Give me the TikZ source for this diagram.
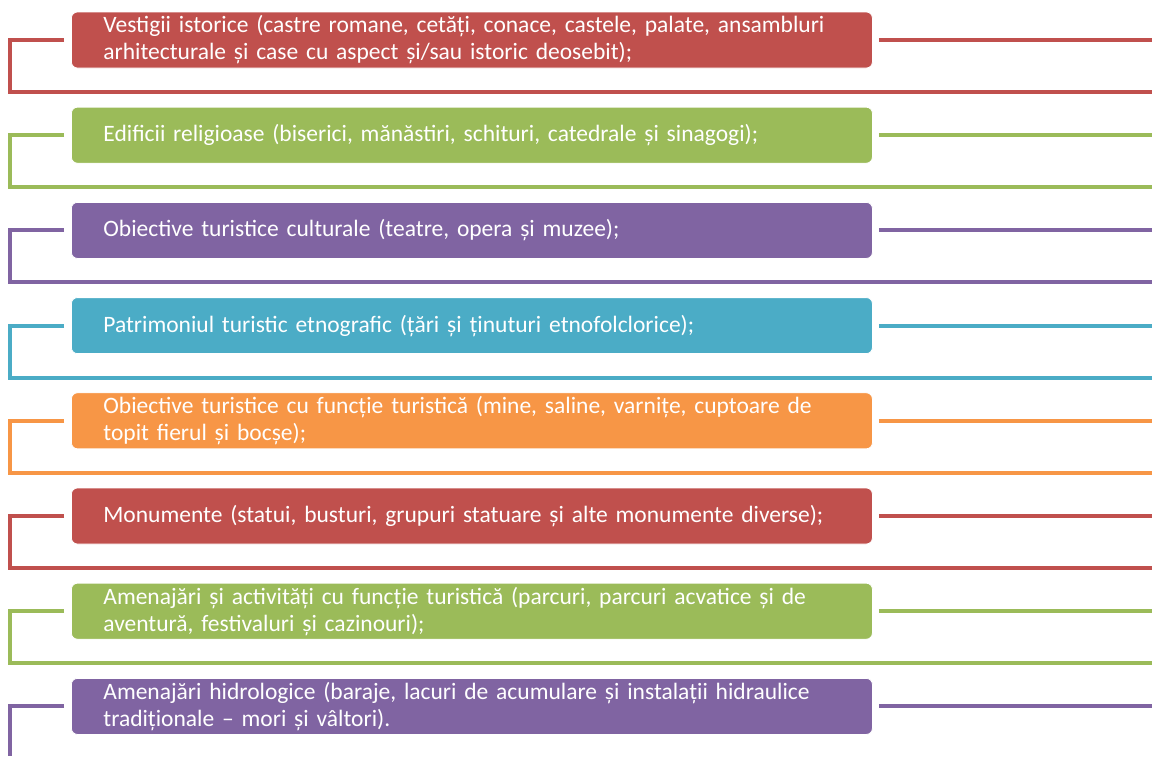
\documentclass[tikz,border=0pt]{standalone}
\usepackage{fontspec}
\setmainfont{Carlito}
\definecolor{cred}{HTML}{C0504D}
\definecolor{cgreen}{HTML}{9BBB59}
\definecolor{cpurple}{HTML}{8064A2}
\definecolor{caqua}{HTML}{4BACC6}
\definecolor{corange}{HTML}{F79646}
\begin{document}
\begin{tikzpicture}[x=1pt,y=-1pt,
  itembox/.style={fill=#1, draw=white, line width=0.8pt, rounded corners=6pt,
    text=white, text width=737pt, align=left, inner xsep=32pt, inner ysep=0pt,
    minimum height=56pt, font=\fontsize{23.5}{27}\selectfont, anchor=west},
  conn/.style={draw=#1, line width=4pt}]
\useasboundingbox (0,0) rectangle (1152,756);
\clip (0,0) rectangle (1152,755);
\foreach \i/\c/\t in {
  1/cred/{Vestigii istorice (castre romane, cetăți, conace, castele, palate, ansambluri\\arhitecturale și case cu aspect și/sau istoric deosebit);},
  2/cgreen/{Edificii religioase (biserici, mănăstiri, schituri, catedrale și sinagogi);},
  3/cpurple/{Obiective turistice culturale (teatre, opera și muzee);},
  4/caqua/{Patrimoniul turistic etnografic (țări și ținuturi etnofolclorice);},
  5/corange/{Obiective turistice cu funcție turistică (mine, saline, varnițe, cuptoare de\\topit fierul și bocșe);},
  6/cred/{Monumente (statui, busturi, grupuri statuare și alte monumente diverse);},
  7/cgreen/{Amenajări și activități cu funcție turistică (parcuri, parcuri acvatice și de\\aventură, festivaluri și cazinouri);},
  8/cpurple/{Amenajări hidrologice (baraje, lacuri de acumulare și instalații hidraulice\\tradiționale – mori și vâltori).}}
{
  \pgfmathsetmacro{\cy}{40+95.2*(\i-1)}
  \node[itembox=\c] (b\i) at (71,\cy) {\t};
  \coordinate (lb\i) at (10,\cy+52);
  \coordinate (rb\i) at (1152,\cy+52);
  \coordinate (re\i) at (1152,\cy);
  \draw[conn=\c] ([xshift=-7pt]b\i.west) -| (lb\i) -- (rb\i);
  \draw[conn=\c] ([xshift=6pt]b\i.east) -- (re\i);
}
\end{tikzpicture}
\end{document}
